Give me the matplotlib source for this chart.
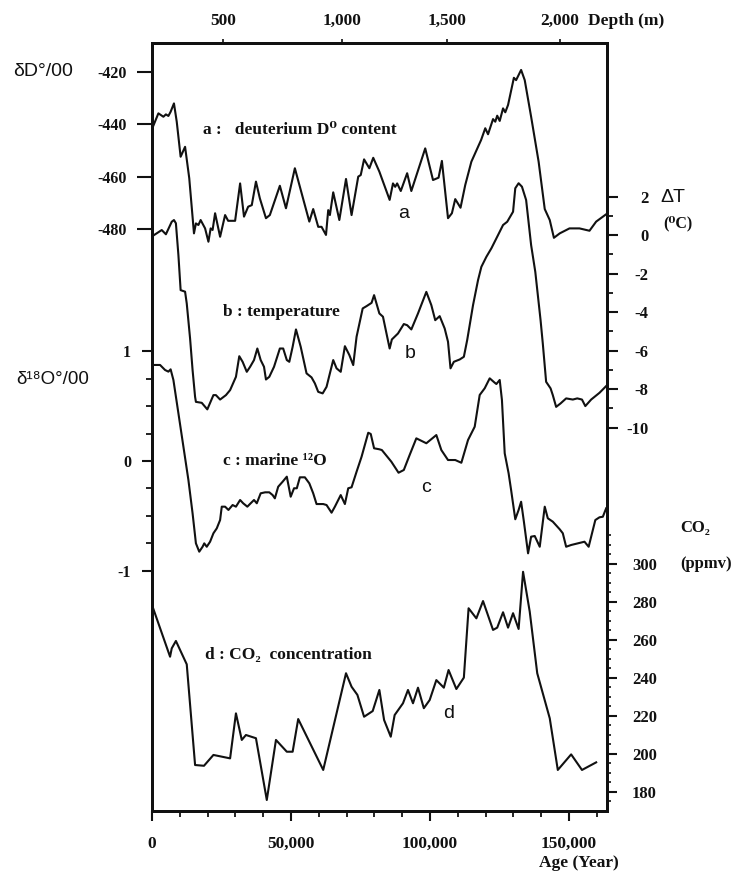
import matplotlib
matplotlib.use("Agg")
import matplotlib.pyplot as plt
from matplotlib.ticker import FixedLocator
import numpy as np

SERIF = ['Liberation Serif', 'DejaVu Serif']
SANS = ['Liberation Sans', 'DejaVu Sans']
plt.rcParams['font.family'] = SERIF
plt.rcParams['font.weight'] = 'bold'
plt.rcParams['axes.unicode_minus'] = False

# ---------------- data ----------------
# a : deuterium content (permil)
age_dD = [0, 2300, 4100, 5000, 5900, 6700, 7900, 8900, 10300, 11900, 13400, 15100, 15800,
          16700, 17500, 19100, 20300, 21100, 21800, 22700, 24500, 26300, 27400, 29900, 31700,
          33100, 34600, 35900, 37400, 38800, 41000, 42400, 46000, 48200, 51400, 56600, 58000,
          59800, 61000, 62600, 63400, 64000, 65200, 67400, 69800, 71800, 74200, 75100, 76300,
          78200, 79600, 81800, 83100, 85500, 86700, 87500, 88200, 89500, 91800, 93300, 98300,
          101100, 103100, 104300, 106500, 107900, 109100, 111000, 112700, 114900, 117300,
          118400, 119900, 120900, 122700, 123500, 124200, 125100, 126300, 127100, 128100,
          130200, 131000, 132800, 134100, 136400, 139100, 141300, 143100, 144600, 146700,
          150200, 153800, 157400, 159800, 163400]
dD = [-441.8, -435.8, -437.1, -436.2, -436.8, -435.2, -432.0, -439.0, -452.4, -448.6, -460.6,
      -481.7, -477.9, -478.5, -476.6, -479.8, -484.9, -479.8, -480.4, -474.0, -483.0, -474.7,
      -476.9, -476.9, -462.6, -475.3, -471.5, -470.9, -461.9, -468.3, -475.9, -474.7, -463.5,
      -472.1, -456.8, -477.2, -472.4, -479.2, -479.2, -482.3, -472.8, -474.7, -466.0, -476.6,
      -460.9, -474.7, -460.0, -459.4, -453.4, -456.8, -452.8, -458.1, -461.9, -468.9, -462.6,
      -463.9, -462.6, -465.5, -458.7, -465.5, -449.2, -461.3, -460.4, -454.0, -475.9, -474.0,
      -468.6, -471.9, -463.2, -454.3, -448.6, -446.0, -441.5, -443.8, -438.0, -439.0, -436.7,
      -438.7, -433.9, -435.4, -432.6, -422.2, -423.1, -419.2, -423.1, -437.1, -454.3, -472.4,
      -476.6, -483.4, -481.7, -479.8, -479.8, -480.7, -477.2, -474.4]

# b : temperature difference (deg C)
age_T = [200, 1700, 3500, 5000, 7100, 7900, 8600, 9500, 10300, 11900, 12500, 13700, 14600,
         15500, 15800, 17900, 19900, 22100, 23000, 24500, 26600, 28100, 30200, 31400, 32600,
         34100, 35300, 36700, 37900, 39100, 40300, 41000, 42200, 43900, 46000, 47200, 48500,
         49400, 50600, 51800, 53500, 55600, 57400, 58600, 59800, 61400, 62800, 64000, 65200,
         66400, 67900, 69400, 71000, 72400, 73600, 75800, 77200, 79000, 79900, 81800, 83100,
         85500, 86300, 88500, 90600, 91800, 93300, 95700, 98700, 100500, 101900, 103500,
         105300, 106500, 107400, 108600, 110700, 112200, 113400, 115500, 117300, 118500,
         120300, 122100, 124500, 126300, 127800, 129900, 130700, 131900, 133100, 134600,
         136400, 137900, 139800, 140600, 141800, 143400, 144200, 145400, 147000, 149000,
         151400, 153000, 154700, 155900, 158000, 161000, 163400]
dT = [-0.05, 0.09, 0.26, 0.04, 0.69, 0.78, 0.61, -1.04, -2.86, -2.94, -3.55, -5.37, -7.01,
      -8.40, -8.66, -8.71, -9.05, -8.31, -8.31, -8.54, -8.31, -8.05, -7.36, -6.29, -6.58,
      -7.10, -6.84, -6.49, -5.89, -6.49, -6.84, -7.50, -7.36, -6.84, -5.89, -5.89, -6.49,
      -6.58, -5.80, -4.90, -5.80, -7.18, -7.39, -7.70, -8.14, -8.22, -7.88, -7.18, -6.49,
      -6.92, -7.10, -5.77, -6.23, -6.75, -5.28, -3.81, -3.69, -3.52, -3.12, -4.07, -4.24,
      -5.89, -5.42, -5.11, -4.62, -4.68, -4.90, -4.07, -2.95, -3.64, -4.42, -4.21, -4.85,
      -5.54, -6.92, -6.58, -6.46, -6.32, -5.45, -3.64, -2.34, -1.65, -1.13, -0.69, 0.0,
      0.52, 0.69, 1.21, 2.43, 2.69, 2.51, 1.82, -0.52, -1.91, -4.42, -5.63, -7.62, -7.96,
      -8.31, -8.92, -8.74, -8.48, -8.54, -8.48, -8.54, -8.88, -8.54, -8.19, -7.84]

# c : marine d18O (permil)
age_O = [0, 2900, 4700, 5900, 6700, 7700, 9500, 11300, 13100, 14600, 15800, 17000, 18200,
         18800, 19700, 20900, 22100, 23300, 24500, 25100, 26300, 27500, 29000, 30200, 31700,
         32800, 34300, 35500, 36700, 37700, 39100, 40700, 42200, 43400, 44200, 45400, 47000,
         48500, 49900, 51100, 52100, 53200, 55000, 56600, 58000, 59200, 61600, 62800, 64600,
         65800, 67900, 69400, 70600, 71800, 73600, 75400, 77800, 78700, 79900, 81800, 82700,
         86100, 88700, 90600, 92700, 95100, 98700, 102300, 104100, 106500, 109100, 111300,
         113700, 116100, 117900, 119700, 121500, 123300, 123900, 125100, 125900, 126900,
         128300, 129200, 130700, 131900, 132800, 133800, 135300, 136400, 137700, 139500,
         141300, 142400, 144200, 146700, 147800, 149000, 150800, 153200, 155600, 157100,
         159500, 161000, 162200, 163400]
d18O = [0.877, 0.877, 0.831, 0.816, 0.837, 0.740, 0.436, 0.131, -0.174, -0.478, -0.752,
        -0.828, -0.783, -0.752, -0.783, -0.737, -0.660, -0.615, -0.539, -0.417, -0.417,
        -0.447, -0.402, -0.417, -0.356, -0.386, -0.417, -0.386, -0.356, -0.386, -0.295,
        -0.286, -0.286, -0.311, -0.341, -0.235, -0.189, -0.143, -0.326, -0.249, -0.249,
        -0.149, -0.149, -0.204, -0.295, -0.393, -0.393, -0.402, -0.472, -0.417, -0.311,
        -0.393, -0.249, -0.240, -0.098, 0.039, 0.258, 0.247, 0.116, 0.107, 0.100, -0.006,
        -0.107, -0.082, 0.055, 0.207, 0.162, 0.237, 0.100, 0.009, 0.009, -0.016, 0.192,
        0.313, 0.603, 0.664, 0.755, 0.715, 0.703, 0.740, 0.557, 0.070, -0.112, -0.265,
        -0.532, -0.447, -0.372, -0.554, -0.843, -0.691, -0.685, -0.783, -0.417, -0.523,
        -0.554, -0.624, -0.660, -0.783, -0.767, -0.752, -0.737, -0.783, -0.539, -0.514,
        -0.509, -0.432]

# d : CO2 concentration (ppmv)
age_CO2 = [0, 6500, 7100, 8600, 12500, 15500, 18700, 22100, 28100, 30200, 32300, 33800,
           37400, 41300, 44600, 48500, 50600, 52600, 61600, 69800, 71800, 73900, 76300,
           79400, 81800, 83500, 85900, 87300, 90300, 92100, 93900, 95700, 97800, 99900,
           102300, 105000, 106700, 109500, 112200, 113900, 116700, 119100, 122700, 124200,
           126300, 128100, 129900, 131900, 133500, 135900, 138600, 143100, 146000, 150800,
           154700, 159800]
co2 = [278.4, 251.2, 255.6, 259.5, 247.2, 194.2, 193.8, 199.5, 197.7, 221.4, 207.4, 210.0,
       208.3, 175.8, 207.4, 201.2, 201.2, 218.4, 191.6, 242.5, 235.4, 231.1, 219.6, 222.6,
       233.7, 217.9, 209.1, 220.5, 226.7, 233.7, 226.7, 234.9, 224.1, 228.4, 238.9, 234.9,
       244.2, 234.2, 240.2, 276.7, 271.4, 280.5, 265.3, 266.5, 274.6, 266.5, 274.1, 265.8,
       295.9, 274.9, 242.5, 218.8, 191.6, 199.8, 191.6, 195.6]

# axes ticks
age_ticks = [0, 50000, 100000, 150000]
age_tick_labels = ['0', '50,000', '100,000', '150,000']
depth_tick_labels = ['500', '1,000', '1,500', '2,000']
depth_tick_ages = [25500, 68300, 106100, 146800]
dD_ticks = [-420, -440, -460, -480]
dT_ticks = [2, 0, -2, -4, -6, -8, -10]
dT_minor = [1, -1, -3, -5, -7, -9]
d18O_ticks = [1, 0, -1]
d18O_minor = [0.75, 0.5, 0.25, -0.25, -0.5, -0.75]
co2_ticks = [300, 280, 260, 240, 220, 200, 180]
co2_minor = [v for v in range(175, 325, 5) if v % 20 != 0]

# ---------------- layout ----------------
W, H = 737, 873
L, R, T, B = 152, 607, 43, 811
fig = plt.figure(figsize=(W / 100, H / 100), dpi=100)
rect = [L / W, 1 - B / H, (R - L) / W, (B - T) / H]

axD = fig.add_axes(rect)
axT = axD.twinx()
axO = axD.twinx()
axC = axD.twinx()
axTop = axD.twiny()

LW = 1.5
col = '#111111'
for ax in (axD, axT, axO, axC, axTop):
    for s in ax.spines.values():
        s.set_linewidth(1.8)
        s.set_color(col)

axD.set_xlim(0, 163700)
axTop.set_xlim(0, 163700)
axD.set_ylim(-702.6, -408.9)
axT.set_ylim(-29.9, 9.97)
axO.set_ylim(-3.196, 3.817)
axC.set_ylim(170.0, 574.2)

axD.plot(age_dD, dD, color=col, lw=LW)
axT.plot(age_T, dT, color=col, lw=LW)
axO.plot(age_O, d18O, color=col, lw=LW)
axC.plot(age_CO2, co2, color=col, lw=LW)

# left: dD
axD.set_yticks(dD_ticks)
axD.set_yticklabels([str(v) for v in dD_ticks])
axD.tick_params(axis='y', length=11, width=1.5, pad=7, labelsize=11.5, direction='out', colors=col)

# left: d18O
axO.yaxis.tick_left()
axO.set_yticks(d18O_ticks)
axO.set_yticklabels([str(v) for v in d18O_ticks])
axO.yaxis.set_minor_locator(FixedLocator(d18O_minor))
axO.tick_params(axis='y', which='major', length=7, width=1.5, pad=8, labelsize=11.5, colors=col)
axO.tick_params(axis='y', which='minor', length=4, width=1.3, colors=col)

# right: dT
axT.set_yticks(dT_ticks)
axT.set_yticklabels([str(v) for v in dT_ticks])
axT.yaxis.set_minor_locator(FixedLocator(dT_minor))
axT.tick_params(axis='y', which='major', length=8, width=1.5, pad=22, labelsize=12, colors=col)
axT.tick_params(axis='y', which='minor', length=4, width=1.3, colors=col)
for lbl in axT.get_yticklabels():
    lbl.set_horizontalalignment('right')

# right: CO2
axC.set_yticks(co2_ticks)
axC.set_yticklabels([str(v) for v in co2_ticks])
axC.yaxis.set_minor_locator(FixedLocator(co2_minor))
axC.tick_params(axis='y', which='major', length=7, width=1.5, pad=11, labelsize=12, colors=col)
axC.tick_params(axis='y', which='minor', length=3, width=1.2, colors=col)

# bottom: age
axD.set_xticks(age_ticks)
axD.set_xticklabels(age_tick_labels)
axD.xaxis.set_minor_locator(FixedLocator(list(range(10000, 163000, 10000))))
axD.tick_params(axis='x', which='major', length=7, width=1.5, pad=11, labelsize=12.5, colors=col)
axD.tick_params(axis='x', which='minor', length=4, width=1.3, colors=col)

# top: depth
axTop.set_xticks(depth_tick_ages)
axTop.set_xticklabels(depth_tick_labels)
axTop.tick_params(axis='x', length=3, width=1.2, pad=7, labelsize=12.5, colors=col)


def put(x, y, s, **kw):
    kw.setdefault('va', 'center')
    kw.setdefault('ha', 'left')
    fig.text(x / W, 1 - y / H, s, color=col, **kw)


sans = dict(family=SANS, weight='normal')
serif = dict(family=SERIF, weight='bold')

put(13, 72, 'δD°/00', fontsize=14, **sans)
put(16, 379, 'δ¹⁸O°/00', fontsize=13.5, **sans)
put(660, 197, 'ΔT', fontsize=14, **sans)
put(663, 223, '(⁰C)', fontsize=11.5, **serif)
put(680, 528, 'CO₂', fontsize=12, **serif)
put(680, 564, '(ppmv)', fontsize=12, **serif)
put(588, 21, 'Depth (m)', fontsize=12.5, **serif)
put(579, 863, 'Age (Year)', fontsize=12.5, ha='center', **serif)

put(203, 130, 'a :   deuterium D⁰ content', fontsize=12.5, **serif)
put(223, 312, 'b : temperature', fontsize=12.5, **serif)
put(223, 461, 'c : marine ¹²O', fontsize=12.5, **serif)
put(205, 655, 'd : CO₂  concentration', fontsize=12.5, **serif)

put(404, 213, 'a', fontsize=14, ha='center', **sans)
put(410, 353, 'b', fontsize=14, ha='center', **sans)
put(426, 487, 'c', fontsize=14, ha='center', **sans)
put(449, 713, 'd', fontsize=14, ha='center', **sans)

fig.savefig('out.png', dpi=100)
